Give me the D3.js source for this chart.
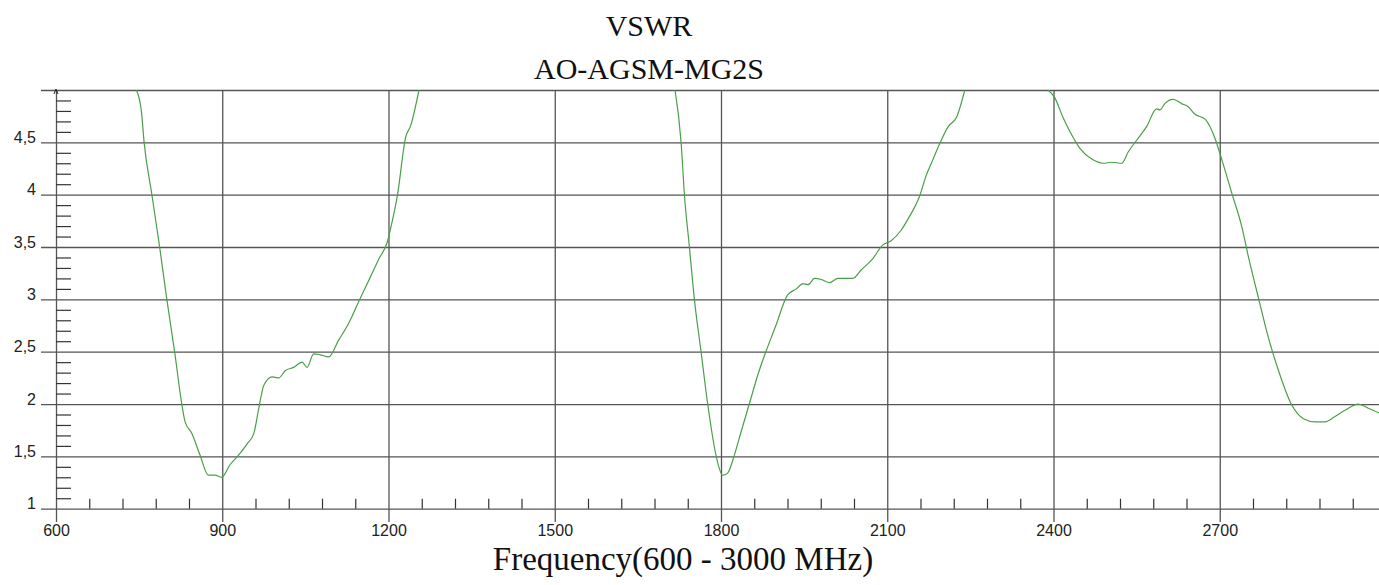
<!DOCTYPE html>
<html>
<head>
<meta charset="utf-8">
<script src="https://cdn.jsdelivr.net/npm/d3@7"></script>
<style>
  body { margin: 0; background: #fff; }
  .grid line { stroke: #555; stroke-width: 1.3; }
  .grid path { display: none; }
  .minor line { stroke: #333; stroke-width: 1.2; }
  .minor path { display: none; }
  .tick text { font-family: "Liberation Sans", Arial, sans-serif; font-size: 16px; fill: #222; }
  .title { font-family: "Liberation Serif", "Times New Roman", serif; fill: #111; }
</style>
</head>
<body>
<svg width="1379" height="585"></svg>
<script>
// frequency (MHz) / VSWR, null = trace above 5 (off chart)
const freqMHz = [
  745, 754, 759, 773, 787, 800, 814, 827, 833, 845, 860, 875, 887, 899, 914, 929, 945, 957, 966, 975,
  990, 1002, 1014, 1029, 1044, 1053, 1065, 1077, 1092, 1110, 1128, 1149, 1167, 1183, 1198, 1204, 1216, 1231, 1240, 1255,
  1480,
  1717, 1728, 1734, 1743, 1752, 1764, 1776, 1791, 1803, 1812, 1824, 1836, 1851, 1869, 1881, 1899, 1920, 1936, 1948, 1957,
  1969, 1981, 1996, 2011, 2038, 2053, 2074, 2092, 2107, 2125, 2140, 2158, 2170, 2182, 2194, 2210, 2225, 2240,
  2310,
  2390, 2402, 2417, 2432, 2448, 2469, 2490, 2505, 2523, 2535, 2550, 2568, 2586, 2592, 2601, 2616, 2631, 2643, 2655, 2674,
  2692, 2704, 2722, 2740, 2752, 2770, 2788, 2806, 2830, 2851, 2872, 2890, 2908, 2926, 2950, 2968, 2990, 3000
];
const vswr = [
  5.00, 4.80, 4.50, 4.00, 3.50, 3.00, 2.50, 2.00, 1.83, 1.72, 1.51, 1.32, 1.32, 1.30, 1.42, 1.51, 1.62, 1.72, 1.96, 2.18,
  2.26, 2.25, 2.32, 2.35, 2.40, 2.35, 2.48, 2.47, 2.45, 2.61, 2.77, 3.01, 3.21, 3.39, 3.55, 3.68, 3.99, 4.55, 4.66, 5.00,
  null,
  5.00, 4.50, 4.00, 3.50, 3.00, 2.50, 2.00, 1.51, 1.32, 1.34, 1.51, 1.73, 2.00, 2.32, 2.50, 2.75, 3.04, 3.10, 3.15, 3.14,
  3.20, 3.19, 3.16, 3.20, 3.20, 3.28, 3.39, 3.52, 3.56, 3.66, 3.79, 3.98, 4.18, 4.33, 4.48, 4.65, 4.74, 5.00,
  null,
  5.00, 4.93, 4.74, 4.58, 4.44, 4.34, 4.30, 4.31, 4.30, 4.41, 4.52, 4.65, 4.82, 4.81, 4.87, 4.91, 4.87, 4.84, 4.77, 4.72,
  4.53, 4.33, 4.01, 3.69, 3.40, 3.01, 2.63, 2.32, 1.99, 1.86, 1.83, 1.83, 1.88, 1.94, 2.00, 1.96, 1.91, 1.89
];

const xMajor = [600, 900, 1200, 1500, 1800, 2100, 2400, 2700];
const yMajor = [1, 1.5, 2, 2.5, 3, 3.5, 4, 4.5, 5];
const titleLines = ["VSWR", "AO-AGSM-MG2S"];
const xTitle = "Frequency(600 - 3000 MHz)";

const svg = d3.select("svg");
const W = 1379;
const plotTop = 90, plotBottom = 508.7, plotLeft = 56, gridLeft = 41, xAxisY = 522;

const x = d3.scaleLinear().domain([600, 3000]).range([plotLeft, 1386]);
const y = d3.scaleLinear().domain([1, 5]).range([plotBottom, plotTop]);

const xMinor = d3.range(600, 3001, 60).filter(d => d % 300 !== 0);
const yMinor = d3.range(10, 50).map(d => d / 10).filter(d => !yMajor.includes(d));

// horizontal grid + y labels
svg.append("g")
  .attr("class", "grid")
  .attr("transform", `translate(${gridLeft},0)`)
  .call(d3.axisLeft(y).tickValues(yMajor).tickSize(-(W - gridLeft)).tickPadding(5)
    .tickFormat(d => d === 5 ? "" : String(d).replace(".", ",")))
  .selectAll("text").attr("dy", "0");

// vertical grid + x labels
svg.append("g")
  .attr("class", "grid")
  .attr("transform", `translate(0,${xAxisY})`)
  .call(d3.axisBottom(x).tickValues(xMajor).tickSize(-(xAxisY - plotTop)).tickPadding(3)
    .tickFormat(d3.format("d")));

// minor ticks
svg.append("g")
  .attr("class", "minor")
  .attr("transform", `translate(${plotLeft},0)`)
  .call(d3.axisRight(y).tickValues(yMinor).tickSize(15).tickFormat(""));

svg.append("g")
  .attr("class", "minor")
  .attr("transform", `translate(0,${plotBottom})`)
  .call(d3.axisTop(x).tickValues(xMinor).tickSize(10).tickFormat(""));

// small arrow tip on the y axis
svg.append("path")
  .attr("d", `M${plotLeft - 2},${plotTop + 4} L${plotLeft},${plotTop - 1} L${plotLeft + 2},${plotTop + 4}`)
  .attr("fill", "none").attr("stroke", "#222").attr("stroke-width", 1);

svg.append("clipPath").attr("id", "plot")
  .append("rect").attr("x", plotLeft).attr("y", plotTop).attr("width", W - plotLeft).attr("height", plotBottom - plotTop);

const pts = freqMHz.map((f, i) => [f, vswr[i]]);
const line = d3.line()
  .defined(d => d[1] != null)
  .x(d => x(d[0]))
  .y(d => y(d[1]))
  .curve(d3.curveMonotoneX);

svg.append("path")
  .datum(pts)
  .attr("clip-path", "url(#plot)")
  .attr("fill", "none")
  .attr("stroke", "#4a9e4a")
  .attr("stroke-width", 1.2)
  .attr("d", line);

svg.selectAll(".t")
  .data(titleLines)
  .enter().append("text")
  .attr("class", "title")
  .attr("x", 649)
  .attr("y", (d, i) => 36 + i * 43)
  .attr("text-anchor", "middle")
  .attr("font-size", 30)
  .text(d => d);

svg.append("text")
  .attr("class", "title")
  .attr("x", 683)
  .attr("y", 570)
  .attr("text-anchor", "middle")
  .attr("font-size", 33)
  .text(xTitle);
</script>
</body>
</html>
